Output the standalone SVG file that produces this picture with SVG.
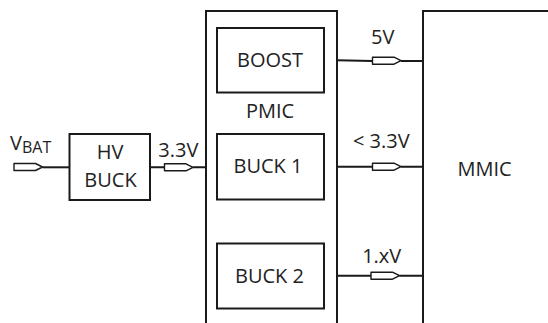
<svg xmlns="http://www.w3.org/2000/svg" xmlns:xlink="http://www.w3.org/1999/xlink" width="548" height="323" viewBox="0 0 548 323">
<style>
.box{fill:#fff;stroke:#1a1a1a;stroke-width:2}
.open{fill:none;stroke:#1a1a1a;stroke-width:2}
.wire{fill:none;stroke:#1a1a1a;stroke-width:2}
.pin{fill:#fff;stroke:#1a1a1a;stroke-width:1.4;stroke-linejoin:round}
text{font-family:"Open Sans","Noto Sans","DejaVu Sans",sans-serif;font-size:20px;fill:#222}
.c{text-anchor:middle}
</style>
<defs>
<path id="pinshape" class="pin" d="M0,-3.5 H21.5 L28.5,0 L21.5,3.5 H0 Z"/>
</defs>
<rect width="548" height="323" fill="#fff"/>
<g id="pmic">
<path class="open" d="M206,330 V11 H337 V330"/>
<text class="c" x="270" y="118">PMIC</text>
</g>
<g id="mmic">
<path class="open" d="M423,330 V11 H560"/>
<text x="457.5" y="176">MMIC</text>
</g>
<g id="boost">
<rect class="box" x="217" y="28" width="107" height="64.5"/>
<text class="c" x="270" y="66.5">BOOST</text>
</g>
<g id="buck1">
<rect class="box" x="217" y="134" width="107" height="65.5"/>
<text class="c" x="268" y="173.3">BUCK 1</text>
</g>
<g id="buck2">
<rect class="box" x="217" y="243.5" width="107" height="65"/>
<text class="c" x="269.5" y="283">BUCK 2</text>
</g>
<g id="hvbuck">
<rect class="box" x="69.5" y="134" width="80.5" height="66"/>
<text class="c" x="110" y="159.3">HV</text>
<text class="c" x="110.5" y="186.7">BUCK</text>
</g>
<g id="connectors">
<path class="wire" d="M42.5,167.3 H69.5"/>
<path class="wire" d="M150,167.3 H164.5 M193,167.3 H206"/>
<path class="wire" d="M337,60.3 L372.5,61 M401,61 H423"/>
<path class="wire" d="M337,166.7 H372.5 M401,166.7 H423"/>
<path class="wire" d="M337,275.7 H371 M399.5,275.7 H423"/>
<use xlink:href="#pinshape" x="14" y="167"/>
<use xlink:href="#pinshape" x="164.5" y="167.3"/>
<use xlink:href="#pinshape" x="372.5" y="60.7"/>
<use xlink:href="#pinshape" x="372.5" y="166.7"/>
<use xlink:href="#pinshape" x="371" y="275.7"/>
<text x="10" y="149.5">V<tspan font-size="16" dy="3.5">BAT</tspan></text>
<text class="c" x="178.3" y="156.7">3.3V</text>
<text class="c" x="382.7" y="44.3">5V</text>
<text class="c" x="381.3" y="148.3">&lt; 3.3V</text>
<text class="c" x="381.7" y="263.3">1.xV</text>
</g>
</svg>
